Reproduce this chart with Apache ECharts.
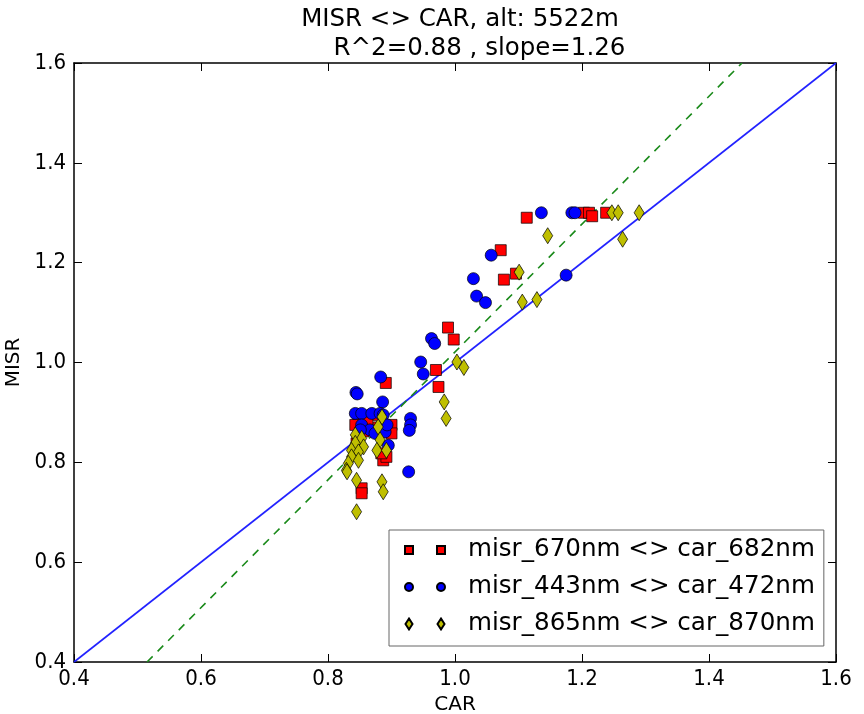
<!DOCTYPE html>
<html>
<head>
<meta charset="utf-8">
<script src="https://cdn.jsdelivr.net/npm/echarts@6/dist/echarts.min.js"></script>
<style>
  html, body { margin: 0; padding: 0; background: #fff; }
  #chart { width: 864px; height: 714px; }
</style>
</head>
<body>
<div id="chart"></div>
<script>
// MISR vs CAR reflectance comparison at 5522 m

const titleLines = ['MISR <> CAR, alt: 5522m', '     R^2=0.88 , slope=1.26'];
const xAxisName = 'CAR';
const yAxisName = 'MISR';
const axisTicks = [0.4, 0.6, 0.8, 1.0, 1.2, 1.4, 1.6];

const seriesNames = [
  'misr_670nm <> car_682nm',
  'misr_443nm <> car_472nm',
  'misr_865nm <> car_870nm'
];

// [CAR, MISR] pairs, 670/682 nm
const red670 = [
  [1.113, 1.290], [1.203, 1.300], [1.211, 1.300], [1.216, 1.293], [1.238, 1.300],
  [1.072, 1.225], [1.077, 1.166], [1.096, 1.178], [0.989, 1.070], [0.998, 1.046],
  [0.970, 0.985], [0.974, 0.951], [0.891, 0.959], [0.848, 0.895], [0.871, 0.895],
  [0.843, 0.875], [0.900, 0.875], [0.900, 0.858], [0.845, 0.838], [0.887, 0.804],
  [0.892, 0.811], [0.853, 0.748], [0.853, 0.738], [0.862, 0.880], [0.880, 0.870],
  [0.856, 0.862], [0.884, 0.818], [0.846, 0.830]
];

// [CAR, MISR] pairs, 443/472 nm
const blue443 = [
  [1.136, 1.300], [1.184, 1.300], [1.189, 1.300], [1.057, 1.215], [1.029, 1.168],
  [1.175, 1.175], [1.034, 1.133], [1.048, 1.120], [0.963, 1.048], [0.968, 1.038],
  [0.946, 1.001], [0.950, 0.977], [0.883, 0.971], [0.886, 0.921], [0.844, 0.940],
  [0.846, 0.937], [0.930, 0.888], [0.930, 0.875], [0.928, 0.864], [0.927, 0.781],
  [0.843, 0.898], [0.853, 0.898], [0.869, 0.898], [0.882, 0.898], [0.887, 0.895],
  [0.853, 0.875], [0.866, 0.865], [0.851, 0.865], [0.874, 0.858], [0.890, 0.861],
  [0.895, 0.834], [0.893, 0.875]
];

// [CAR, MISR] pairs, 865/870 nm
const yellow865 = [
  [1.247, 1.300], [1.257, 1.300], [1.290, 1.300], [1.146, 1.254], [1.264, 1.247],
  [1.101, 1.181], [1.106, 1.121], [1.129, 1.126], [1.003, 1.001], [1.014, 0.990],
  [0.983, 0.921], [0.986, 0.888], [0.885, 0.891], [0.879, 0.871], [0.882, 0.845],
  [0.877, 0.824], [0.892, 0.824], [0.843, 0.855], [0.853, 0.848], [0.843, 0.838],
  [0.856, 0.831], [0.837, 0.824], [0.848, 0.821], [0.837, 0.811], [0.848, 0.804],
  [0.832, 0.798], [0.829, 0.784], [0.845, 0.764], [0.845, 0.701], [0.885, 0.761],
  [0.887, 0.741], [0.830, 0.781]
];

// 1:1 reference line and fitted regression line
const oneToOneLine = [[0.4, 0.4], [1.6, 1.6]];
const fitLine = [[0.515, 0.4], [1.452, 1.6]];

const axisMin = 0.4, axisMax = 1.6, axisStep = 0.2;

// Legend icons: two markers per entry, drawn in a 40x12 box
const iconSquares = 'path://M0,0M40,12M0,2h8v8h-8zM32,2h8v8h-8z';
const iconCircles = 'path://M0,0M40,12M0,6a4,4 0 1,0 8,0a4,4 0 1,0 -8,0zM32,6a4,4 0 1,0 8,0a4,4 0 1,0 -8,0z';
const iconDiamonds = 'path://M0,0M40,12M4,0.5L7.5,6L4,11.5L0.5,6zM36,0.5L39.5,6L36,11.5L32.5,6z';

const FONT = 'DejaVu Sans';
const TICK_FONT = "'DejaVu Sans Condensed', 'DejaVu Sans'";

const chart = echarts.init(document.getElementById('chart'), null, { renderer: 'canvas' });

function valueAxis(extra) {
  return Object.assign({
    type: 'value',
    min: axisMin,
    max: axisMax,
    interval: axisStep,
    splitLine: { show: false },
    axisLine: { show: true, onZero: false, lineStyle: { color: '#000', width: 1.5 } },
    axisTick: { show: true, inside: true, length: 8, lineStyle: { color: '#000', width: 1 } }
  }, extra);
}

const tickFormatter = v => axisTicks.find(t => Math.abs(t - v) < 1e-9).toFixed(1);

const option = {
  backgroundColor: '#fff',
  animation: false,
  title: {
    text: titleLines.join('\n'),
    left: 455,
    top: 0,
    textAlign: 'center',
    textStyle: { fontFamily: FONT, fontSize: 24.5, fontWeight: 'normal', color: '#000', lineHeight: 29 }
  },
  grid: { left: 74, top: 63, right: 28, bottom: 52, containLabel: false, outerBoundsMode: 'none' },
  legend: {
    orient: 'vertical',
    left: 389,
    top: 530,
    padding: [7, 9, 9, 15],
    itemGap: 11,
    itemWidth: 40,
    itemHeight: 12,
    backgroundColor: '#fff',
    borderColor: '#666',
    borderWidth: 1,
    borderRadius: 0,
    selectedMode: false,
    textStyle: { fontFamily: FONT, fontSize: 24.6, color: '#000', lineHeight: 26, padding: [0, 0, 0, 18] },
    data: [
      { name: seriesNames[0], icon: iconSquares },
      { name: seriesNames[1], icon: iconCircles },
      { name: seriesNames[2], icon: iconDiamonds }
    ]
  },
  xAxis: [
    valueAxis({
      position: 'bottom',
      name: xAxisName,
      nameLocation: 'middle',
      nameGap: 30,
      nameTextStyle: { fontFamily: FONT, fontSize: 20, color: '#000' },
      axisLabel: { fontFamily: TICK_FONT, fontSize: 22, color: '#000', margin: 6, formatter: tickFormatter }
    }),
    valueAxis({ position: 'top', axisLabel: { show: false } })
  ],
  yAxis: [
    valueAxis({
      position: 'left',
      name: yAxisName,
      nameLocation: 'middle',
      nameGap: 44,
      nameTextStyle: { fontFamily: FONT, fontSize: 20, color: '#000' },
      axisLabel: { fontFamily: TICK_FONT, fontSize: 22, color: '#000', margin: 8, formatter: tickFormatter }
    }),
    valueAxis({ position: 'right', axisLabel: { show: false } })
  ],
  series: [
    {
      name: 'one-to-one',
      type: 'line',
      data: oneToOneLine,
      symbol: 'none',
      silent: true,
      lineStyle: { color: '#2222ff', width: 1.6 },
      z: 1
    },
    {
      name: 'fit',
      type: 'line',
      data: fitLine,
      symbol: 'none',
      silent: true,
      lineStyle: { color: '#1a8a1a', width: 1.6, type: [8, 7] },
      z: 1
    },
    {
      name: seriesNames[0],
      type: 'scatter',
      data: red670,
      symbol: 'rect',
      symbolSize: 11,
      itemStyle: { color: '#ff0000', borderColor: '#000', borderWidth: 0.7, opacity: 1 },
      z: 2
    },
    {
      name: seriesNames[1],
      type: 'scatter',
      data: blue443,
      symbol: 'circle',
      symbolSize: 12,
      itemStyle: { color: '#0000ff', borderColor: '#000', borderWidth: 0.7, opacity: 1 },
      z: 3
    },
    {
      name: seriesNames[2],
      type: 'scatter',
      data: yellow865,
      symbol: 'diamond',
      symbolSize: [10, 16],
      itemStyle: { color: '#bfbf00', borderColor: '#000', borderWidth: 0.7, opacity: 1 },
      z: 4
    }
  ]
};

chart.setOption(option);
</script>
</body>
</html>
